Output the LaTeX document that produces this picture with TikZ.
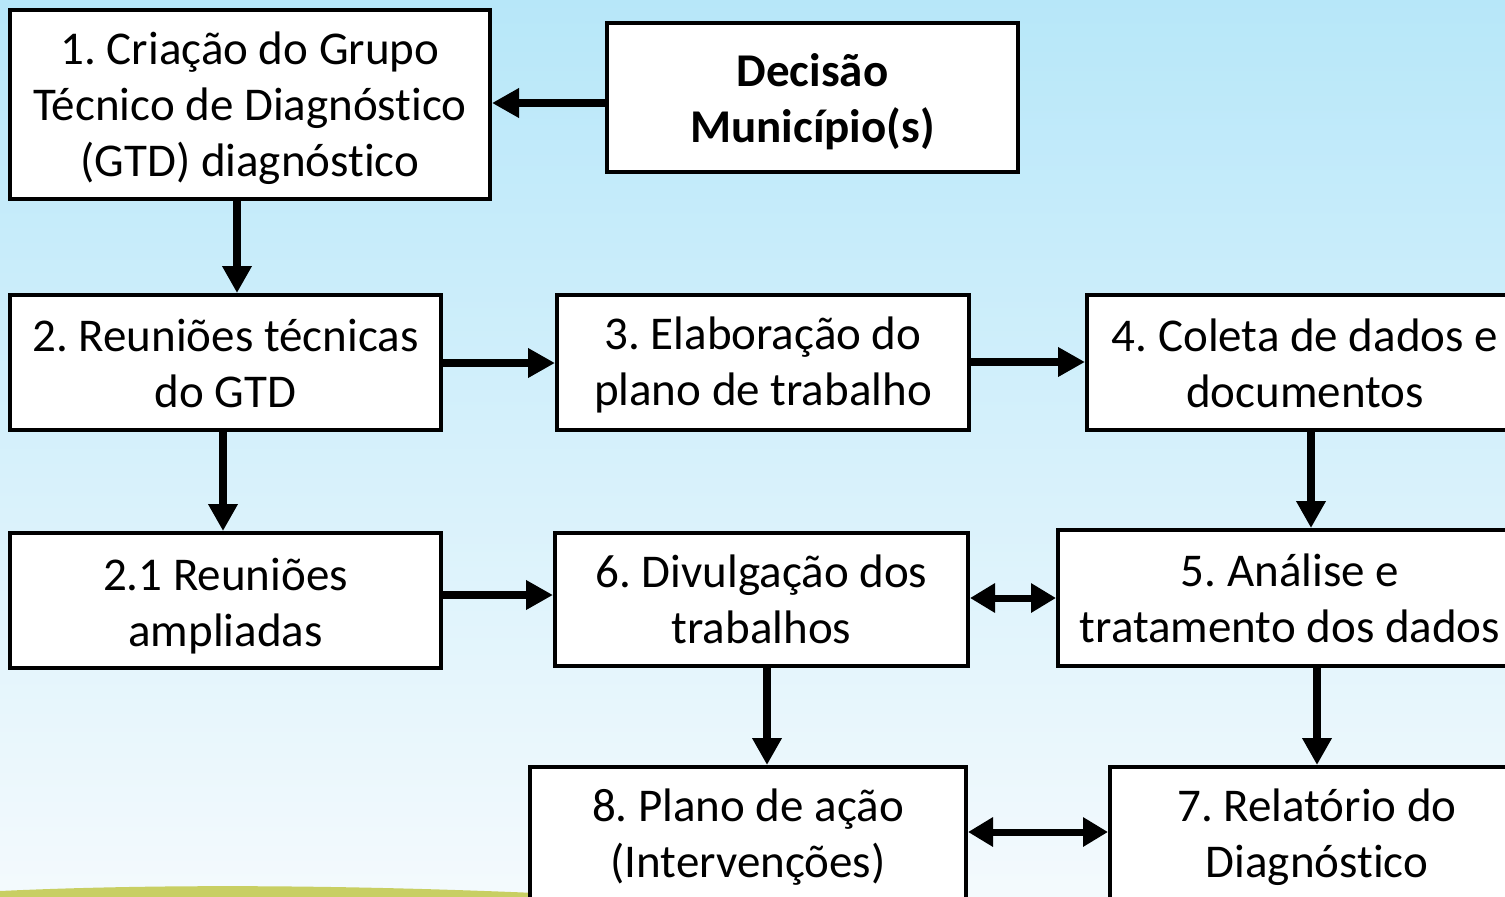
\documentclass[tikz,border=0pt]{standalone}
\usepackage{fontspec}
\setmainfont{Carlito}[Ligatures=NoCommon]
\usetikzlibrary{arrows.meta}
\definecolor{bgtop}{RGB}{183,231,249}
\definecolor{bgbot}{RGB}{244,250,253}
\definecolor{grass}{RGB}{200,207,99}
\newcommand{\bt}[2]{\raisebox{-#1}[\height][\depth]{\begin{tabular}{@{}c@{}}#2\end{tabular}}}
\tikzset{
  box/.style={draw=black, line width=4pt, fill=white,
    font=\fontsize{47}{56}\selectfont\frenchspacing, inner sep=0pt},
  flow/.style={line width=8pt, -{Triangle[length=27pt,width=28pt]}},
  both/.style={line width=7pt, {Triangle[length=25pt,width=28pt]}-{Triangle[length=25pt,width=28pt]}}
}
\begin{document}
\begin{tikzpicture}[x=1pt,y=-1pt]
\useasboundingbox (0,0) rectangle (1505,897);
\clip (0,0) rectangle (1505,897);
\shade[top color=bgtop, bottom color=bgbot] (0,0) rectangle (1505,897);
\fill[grass] (0,897) -- (0,891) .. controls (150,884) and (350,884) .. (580,895) -- (580,897) -- cycle;

\node[box, minimum width=480pt, minimum height=189pt] (b1) at (250,104.5) {\bt{5pt}{1. Criação do Grupo\\Técnico de Diagnóstico\\(GTD) diagnóstico}};
\node[box, minimum width=411pt, minimum height=149pt, font=\fontsize{47}{56}\selectfont\bfseries] (dec) at (812.5,97.5) {\bt{5.5pt}{Decisão\\Município(s)}};
\node[box, minimum width=431pt, minimum height=135pt] (b2) at (225.5,362.5) {\bt{5.5pt}{2. Reuniões técnicas\\do GTD}};
\node[box, minimum width=412pt, minimum height=135pt] (b3) at (763,362.5) {\bt{3.5pt}{3. Elaboração do\\plano de trabalho}};
\node[box, minimum width=436pt, minimum height=135pt] (b4) at (1305,362.5) {\bt{5.5pt}{4. Coleta de dados e\\documentos}};
\node[box, minimum width=431pt, minimum height=135pt] (b21) at (225.5,600.5) {\bt{6.5pt}{2.1 Reuniões\\ampliadas}};
\node[box, minimum width=413pt, minimum height=133pt] (b6) at (761.5,599.5) {\bt{4.5pt}{6. Divulgação dos\\trabalhos}};
\node[box, minimum width=464pt, minimum height=136pt] (b5) at (1290,598) {\bt{5.5pt}{5. Análise e\\tratamento dos dados}};
\node[box, minimum width=436pt, minimum height=136pt] (b8) at (748,835) {\bt{3.5pt}{8. Plano de ação\\(Intervenções)}};
\node[box, minimum width=414pt, minimum height=136pt] (b7) at (1317,835) {\bt{3.5pt}{7. Relatório do\\Diagnóstico}};

\draw[flow] (dec.west |- 0,103) -- (b1.east |- 0,103);
\draw[flow] (b1.south -| 237,0) -- (b2.north -| 237,0);
\draw[flow] (b2.east |- 0,363) -- (b3.west |- 0,363);
\draw[flow] (b3.east |- 0,362) -- (b4.west |- 0,362);
\draw[flow] (b2.south -| 223,0) -- (b21.north -| 223,0);
\draw[flow] (b21.east |- 0,595) -- (b6.west |- 0,595);
\draw[flow] (b4.south -| 1311,0) -- (b5.north -| 1311,0);
\draw[both] (b6.east |- 0,598) -- (b5.west |- 0,598);
\draw[flow] (b6.south -| 767,0) -- (b8.north -| 767,0);
\draw[flow] (b5.south -| 1317,0) -- (b7.north -| 1317,0);
\draw[both] (b8.east |- 0,832) -- (b7.west |- 0,832);
\end{tikzpicture}
\end{document}
